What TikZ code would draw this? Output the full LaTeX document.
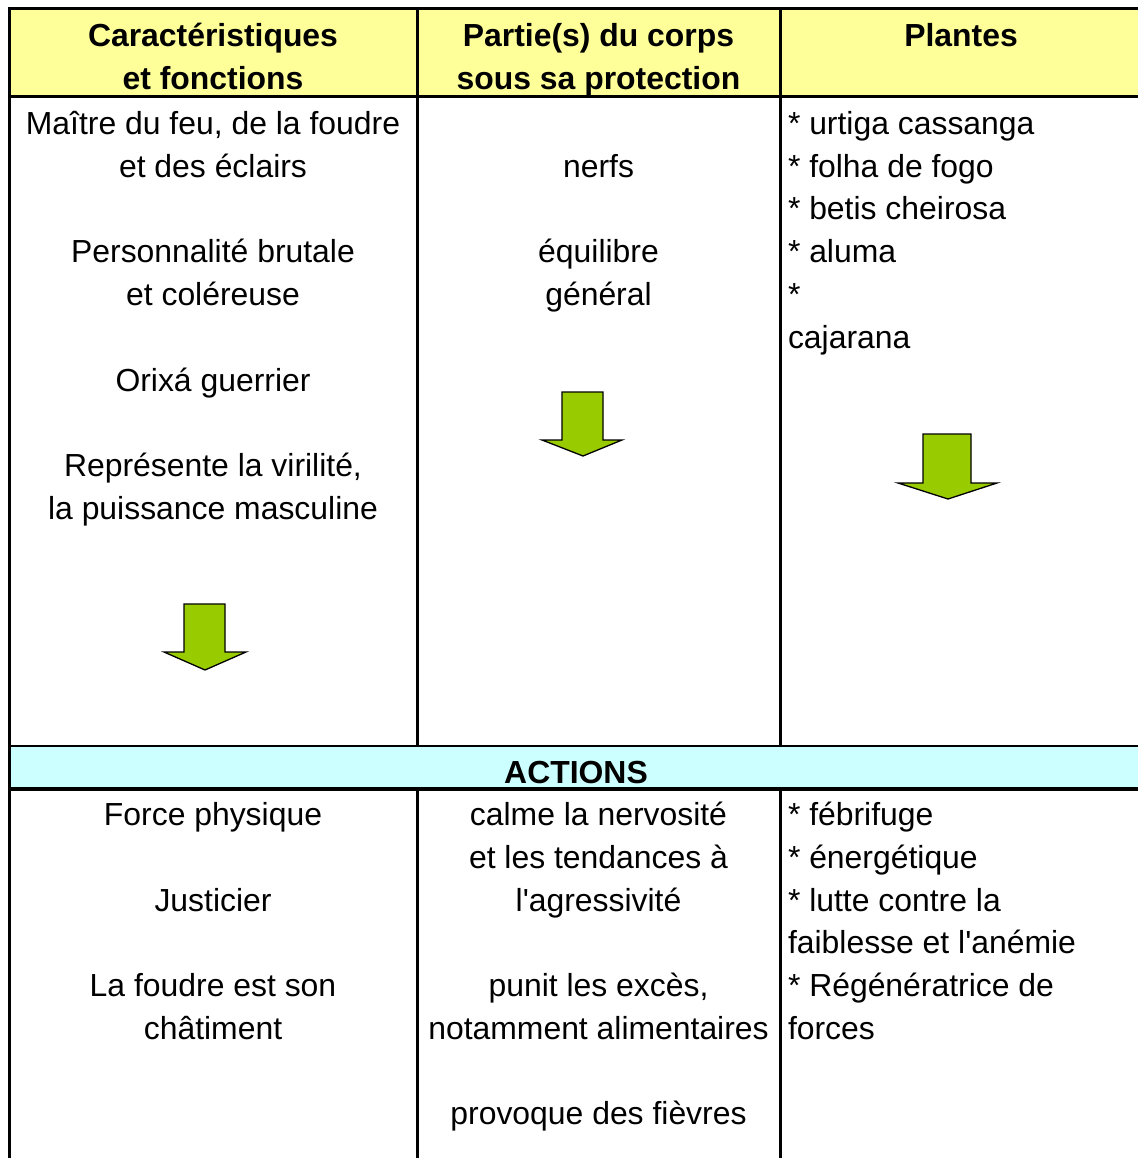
\documentclass[tikz,border=0pt]{standalone}
\usepackage{fontspec}
\setmainfont{Liberation Sans}[Ligatures=TeXOff]
\definecolor{hdrfill}{HTML}{FFFF99}
\definecolor{bandfill}{HTML}{CCFFFF}
\definecolor{arrowgreen}{HTML}{99CC00}
\begin{document}
\begin{tikzpicture}[x=1pt,y=-1pt,
  txt/.style={anchor=base, inner sep=0pt, outer sep=0pt, font=\fontsize{31.9}{40}\selectfont},
  txtl/.style={txt, anchor=base west},
  hd/.style={txt, font=\fontsize{31.9}{40}\selectfont\bfseries},
  rulethick/.style={line width=3pt, black},
  garrow/.style={fill=arrowgreen, draw=black, line width=1.3pt, line join=miter}]
\useasboundingbox (0,0) rectangle (1138,1158);
% fills
\fill[hdrfill] (9,9) rectangle (1138,97);
\fill[bandfill] (9,746) rectangle (1138,789);
% rules
\draw[rulethick] (9,8.7) -- (1138,8.7);
\draw[rulethick] (9,7.2) -- (9,1158);
\draw[rulethick] (9,97) -- (1138,97);
\draw[line width=2.5pt] (9,746) -- (1138,746);
\draw[line width=3.5pt] (9,789) -- (1138,789);
\draw[rulethick] (417,8.7) -- (417,746);
\draw[rulethick] (780,8.7) -- (780,746);
\draw[rulethick] (417,789) -- (417,1158);
\draw[rulethick] (780,789) -- (780,1158);
% header
\node[hd] (h1a) at (213,47) {Caractéristiques};
\node[hd] (h1b) at (213,90) {et fonctions};
\node[hd] (h2a) at (598.5,47) {Partie(s) du corps};
\node[hd] (h2b) at (598.5,90) {sous sa protection};
\node[hd] (h3a) at (961,47) {Plantes};
% column 1 upper
\node[txt] (c1a) at (213,134.5) {Maître du feu, de la foudre};
\node[txt] (c1b) at (213,177.25) {et des éclairs};
\node[txt] (c1c) at (213,262.75) {Personnalité brutale};
\node[txt] (c1d) at (213,305.5) {et coléreuse};
\node[txt] (c1e) at (213,391) {Orixá guerrier};
\node[txt] (c1f) at (213,476.5) {Représente la virilité,};
\node[txt] (c1g) at (213,519.25) {la puissance masculine};
% column 2 upper
\node[txt] (c2a) at (598.5,177.25) {nerfs};
\node[txt] (c2b) at (598.5,262.75) {équilibre};
\node[txt] (c2c) at (598.5,305.5) {général};
% column 3 upper
\node[txtl] (c3a) at (788,134.5) {* urtiga cassanga};
\node[txtl] (c3b) at (788,177.25) {* folha de fogo};
\node[txtl] (c3c) at (788,220) {* betis cheirosa};
\node[txtl] (c3d) at (788,262.75) {* aluma};
\node[txtl] (c3e) at (788,305.5) {*};
\node[txtl] (c3f) at (788,348.25) {cajarana};
% arrows
\draw[garrow] (184,604) -- (225,604) -- (225,652) -- (246,652) -- (205,670) -- (164,652) -- (184,652) -- cycle;
\draw[garrow] (562,392) -- (603,392) -- (603,440) -- (622,440) -- (583,456) -- (542,440) -- (562,440) -- cycle;
\draw[garrow] (923,434) -- (971,434) -- (971,483) -- (997,483) -- (948,499) -- (898,483) -- (923,483) -- cycle;
% band
\node[hd] (act) at (576,783.5) {ACTIONS};
% column 1 lower
\node[txt] (d1a) at (213,825.5) {Force physique};
\node[txt] (d1b) at (213,911) {Justicier};
\node[txt] (d1c) at (213,996.5) {La foudre est son};
\node[txt] (d1d) at (213,1039.25) {châtiment};
% column 2 lower
\node[txt] (d2a) at (598.5,825.5) {calme la nervosité};
\node[txt] (d2b) at (598.5,868.25) {et les tendances à};
\node[txt] (d2c) at (598.5,911) {l'agressivité};
\node[txt] (d2d) at (598.5,996.5) {punit les excès,};
\node[txt] (d2e) at (598.5,1039.25) {notamment alimentaires};
\node[txt] (d2f) at (598.5,1124.75) {provoque des fièvres};
% column 3 lower
\node[txtl] (d3a) at (788,825.5) {* fébrifuge};
\node[txtl] (d3b) at (788,868.25) {* énergétique};
\node[txtl] (d3c) at (788,911) {* lutte contre la};
\node[txtl] (d3d) at (788,953.75) {faiblesse et l'anémie};
\node[txtl] (d3e) at (788,996.5) {* Régénératrice de};
\node[txtl] (d3f) at (788,1039.25) {forces};
\end{tikzpicture}
\end{document}
